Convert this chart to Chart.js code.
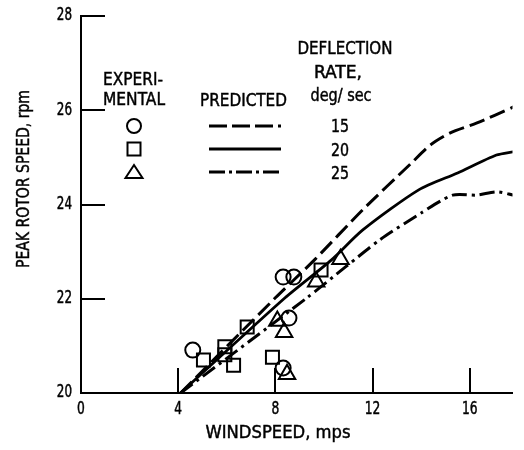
<!DOCTYPE html>
<html>
<head>
<meta charset="utf-8">
<script src="https://cdn.jsdelivr.net/npm/chart.js@4.4.1/dist/chart.umd.min.js"></script>
<style>
  body { margin: 0; background: #fff; }
  canvas { display: block; }
</style>
</head>
<body>
<canvas id="rotor" width="524" height="450"></canvas>
<script>
// predicted curves (windspeed mps -> peak rotor speed rpm)
var dashX = [4.1, 8.0, 9.6, 11.6, 13.6, 14.4, 15.2, 16.3, 17.8];
var dashY = [20, 22.02, 22.82, 23.89, 24.88, 25.27, 25.52, 25.73, 26.07];
var solidX = [4.1, 8.4, 10.3, 11.6, 13.9, 15.5, 17.1, 17.8];
var solidY = [20, 22.02, 22.82, 23.46, 24.31, 24.67, 25.05, 25.12];
var dotDashX = [4.1, 9.3, 10.9, 12.3, 14.0, 15.3, 16.3, 17.1, 17.8];
var dotDashY = [20, 22.02, 22.68, 23.25, 23.82, 24.2, 24.2, 24.27, 24.2];

// experimental points
var circX = [4.6, 8.32, 8.76, 8.56, 8.32];
var circY = [20.91, 22.46, 22.46, 21.59, 20.53];
var sqX = [5.04, 5.92, 5.92, 6.28, 6.84, 7.88, 9.88];
var sqY = [20.70, 20.98, 20.81, 20.59, 21.40, 20.76, 22.61];
var triX = [10.68, 9.68, 8.08, 8.36, 8.48];
var triY = [22.84, 22.36, 21.53, 21.29, 20.40];

var rates = ["15", "20", "25"];
var xTicks = [0, 4, 8, 12, 16];
var yTicks = [20, 22, 24, 26, 28];

var FONT = "'DejaVu Sans Condensed', 'DejaVu Sans', sans-serif";

function pts(xs, ys) {
    return xs.map(function(x, i) { return {x: x, y: ys[i]}; });
}

// condensed lettering: squeeze text to the width it has in the original
function fitText(ctx, txt, cx, cy, w) {
    var m = ctx.measureText(txt).width;
    ctx.save();
    ctx.translate(cx, cy);
    ctx.scale(w / m, 1);
    ctx.fillText(txt, 0, 0);
    ctx.lineWidth = 0.45;
    ctx.strokeText(txt, 0, 0);
    ctx.restore();
}

var extras = {
    id: 'extras',
    afterDraw: function(chart) {
        var ctx = chart.ctx;
        var xs = chart.scales.x, ys = chart.scales.y;
        var area = chart.chartArea;
        ctx.save();
        ctx.strokeStyle = '#000';
        ctx.fillStyle = '#000';
        ctx.lineWidth = 2;

        // inward ticks
        yTicks.forEach(function(v) {
            if (v === 20) return;
            var py = Math.round(ys.getPixelForValue(v));
            ctx.beginPath();
            ctx.moveTo(area.left, py);
            ctx.lineTo(area.left + 24, py);
            ctx.stroke();
        });
        xTicks.forEach(function(v) {
            if (v === 0) return;
            var px = Math.round(xs.getPixelForValue(v));
            ctx.beginPath();
            ctx.moveTo(px, area.bottom);
            ctx.lineTo(px, area.bottom - 25);
            ctx.stroke();
        });

        // tick labels
        ctx.font = '17px ' + FONT;
        ctx.textBaseline = 'middle';
        ctx.textAlign = 'center';
        yTicks.forEach(function(v) {
            var s = String(v);
            var w = 7.6 * s.length;
            fitText(ctx, s, 72 - w / 2, ys.getPixelForValue(v), w);
        });
        xTicks.forEach(function(v) {
            var s = String(v);
            fitText(ctx, s, xs.getPixelForValue(v), 410, 7.8 * s.length);
        });

        // legend text
        ctx.font = '18px ' + FONT;
        fitText(ctx, 'EXPERI-', 133, 80, 60);
        fitText(ctx, 'MENTAL', 134, 100, 62);
        fitText(ctx, 'PREDICTED', 243.5, 101, 87);
        fitText(ctx, 'DEFLECTION', 345, 49, 95);
        fitText(ctx, 'RATE,', 338, 73, 48);
        fitText(ctx, 'deg/ sec', 341, 96, 61);
        var rowY = [127, 151, 174];
        rates.forEach(function(r, i) { fitText(ctx, r, 340, rowY[i], 18); });

        // legend samples
        ctx.lineWidth = 3.2;
        var dashes = [[18, 5], [], [16, 4, 3, 4]];
        var lineY = [126, 149, 172];
        dashes.forEach(function(d, i) {
            ctx.setLineDash(d);
            ctx.beginPath();
            ctx.moveTo(209, lineY[i]);
            ctx.lineTo(281, lineY[i]);
            ctx.stroke();
        });
        ctx.setLineDash([]);
        ctx.lineWidth = 2;
        ctx.beginPath();
        ctx.arc(134, 126, 7, 0, Math.PI * 2);
        ctx.stroke();
        ctx.strokeRect(127.5, 142.5, 13, 13);
        ctx.beginPath();
        ctx.moveTo(134, 165);
        ctx.lineTo(142.5, 178);
        ctx.lineTo(125.5, 178);
        ctx.closePath();
        ctx.stroke();

        // axis titles
        fitText(ctx, 'WINDSPEED, mps', 278, 433, 145);
        ctx.translate(24, 179);
        ctx.rotate(-Math.PI / 2);
        fitText(ctx, 'PEAK ROTOR SPEED, rpm', 0, 0, 178);
        ctx.restore();
    }
};

var markerStyle = {
    showLine: false,
    borderColor: '#000',
    backgroundColor: 'rgba(0,0,0,0)',
    borderWidth: 2
};

new Chart(document.getElementById('rotor'), {
    type: 'line',
    data: {
        datasets: [
            { label: '15', data: pts(dashX, dashY), borderColor: '#000', borderWidth: 3,
              borderDash: [16, 6], pointRadius: 0, tension: 0.25, fill: false },
            { label: '20', data: pts(solidX, solidY), borderColor: '#000', borderWidth: 2.8,
              pointRadius: 0, tension: 0.25, fill: false },
            { label: '25', data: pts(dotDashX, dotDashY), borderColor: '#000', borderWidth: 3,
              borderDash: [15, 5, 3, 5], pointRadius: 0, tension: 0.25, fill: false },
            Object.assign({ label: 'exp 15', data: pts(circX, circY), pointStyle: 'circle', pointRadius: 7.5 }, markerStyle),
            Object.assign({ label: 'exp 20', data: pts(sqX, sqY), pointStyle: 'rect', pointRadius: 9.2 }, markerStyle),
            Object.assign({ label: 'exp 25', data: pts(triX, triY), pointStyle: 'triangle', pointRadius: 9.5 }, markerStyle)
        ]
    },
    options: {
        responsive: false,
        animation: false,
        layout: { padding: { top: 16, right: 0, left: 0, bottom: 0 } },
        plugins: {
            legend: { display: false },
            tooltip: { enabled: false }
        },
        scales: {
            x: {
                type: 'linear',
                min: 0,
                max: 17.76,
                grid: { display: false, drawTicks: false },
                border: { display: true, color: '#000', width: 2 },
                afterBuildTicks: function(s) {
                    s.ticks = xTicks.map(function(v) { return {value: v}; });
                },
                afterFit: function(s) { s.height = 57; },
                ticks: { display: false }
            },
            y: {
                min: 20,
                max: 28,
                grid: { display: false, drawTicks: false },
                border: { display: true, color: '#000', width: 2 },
                afterBuildTicks: function(s) {
                    s.ticks = yTicks.map(function(v) { return {value: v}; });
                },
                afterFit: function(s) { s.width = 81; },
                ticks: { display: false }
            }
        }
    },
    plugins: [extras]
});
</script>
</body>
</html>
